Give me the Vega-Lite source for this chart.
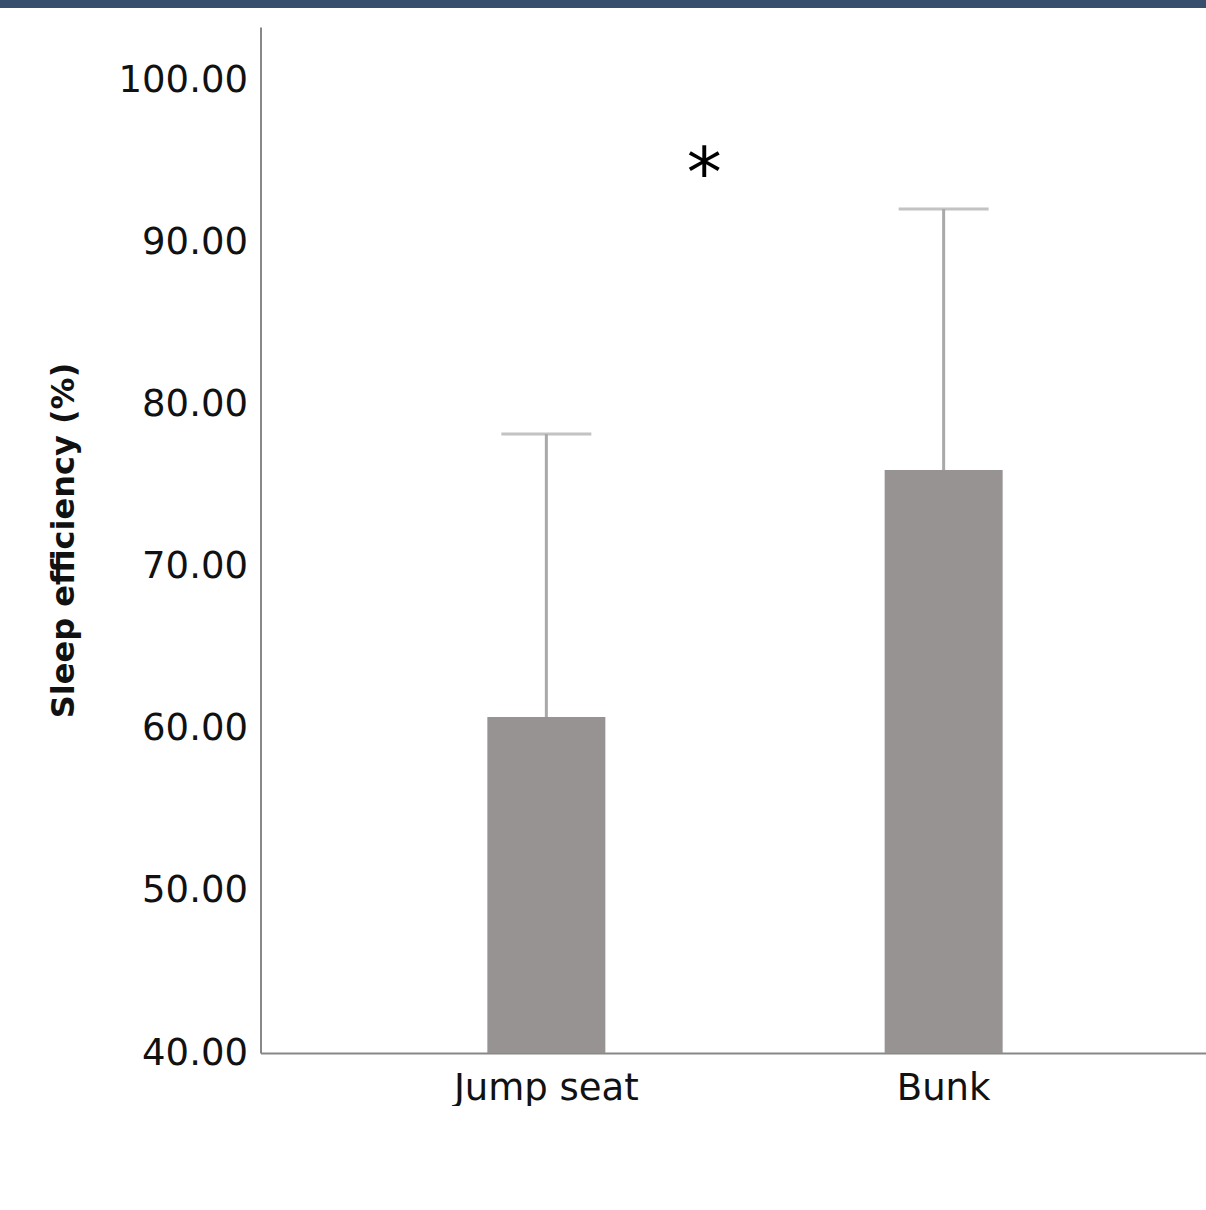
{
  "$schema": "https://vega.github.io/schema/vega-lite/v6.json",
  "padding": 0,
  "background": "white",
  "spacing": 19,
  "center": true,
  "config": {"view": {"stroke": null}, "font": "DejaVu Sans"},
  "vconcat": [
    {
      "width": 1490,
      "height": 8,
      "data": {"values": [{"band": "header"}]},
      "mark": {"type": "rect", "color": "#384e6d"},
      "encoding": {}
    },
    {
      "width": 969,
      "height": 1026,
      "data": {"values": [
        {"seat": "Jump seat", "mean": 60.74, "upper": 78.21},
        {"seat": "Bunk", "mean": 75.99, "upper": 92.1}
      ]},
      "encoding": {
        "x": {
          "field": "seat", "type": "nominal", "sort": ["Jump seat", "Bunk"],
          "scale": {"paddingInner": 0.703, "paddingOuter": 0.571},
          "axis": {"title": null, "labelAngle": 0, "ticks": false, "labelPadding": 17, "labelFontSize": 37, "labelLimit": 500, "labelColor": "#111", "domainColor": "#888", "domainWidth": 2}
        }
      },
      "layer": [
        {
          "mark": {"type": "rule", "color": "#a9a9a9", "strokeWidth": 3},
          "encoding": {
            "y": {"field": "mean", "type": "quantitative"},
            "y2": {"field": "upper"}
          }
        },
        {
          "mark": {"type": "tick", "color": "#a9a9a9", "thickness": 3, "size": 90},
          "encoding": {"y": {"field": "upper", "type": "quantitative"}}
        },
        {
          "mark": {"type": "bar", "color": "#979392"},
          "encoding": {
            "y": {
              "field": "mean", "type": "quantitative",
              "scale": {"domain": [40, 103.33], "zero": false, "nice": false},
              "axis": {"title": "Sleep efficiency (%)", "values": [40, 50, 60, 70, 80, 90, 100], "format": ".2f", "grid": false, "ticks": false, "labelPadding": 13, "labelFontSize": 37, "labelColor": "#111", "domainColor": "#888", "domainWidth": 2, "titleFontSize": 32, "titleFontWeight": "bold", "titleColor": "#111", "titlePadding": 38}
            },
            "y2": {"datum": 40}
          }
        },
        {
          "data": {"values": [{"seat": "Jump seat", "mark": "*", "level": 94.9}]},
          "mark": {"type": "text", "fontSize": 70, "dx": 158, "baseline": "middle", "dy": 12, "color": "#000"},
          "encoding": {
            "y": {"field": "level", "type": "quantitative"},
            "text": {"field": "mark"}
          }
        }
      ]
    }
  ]
}
